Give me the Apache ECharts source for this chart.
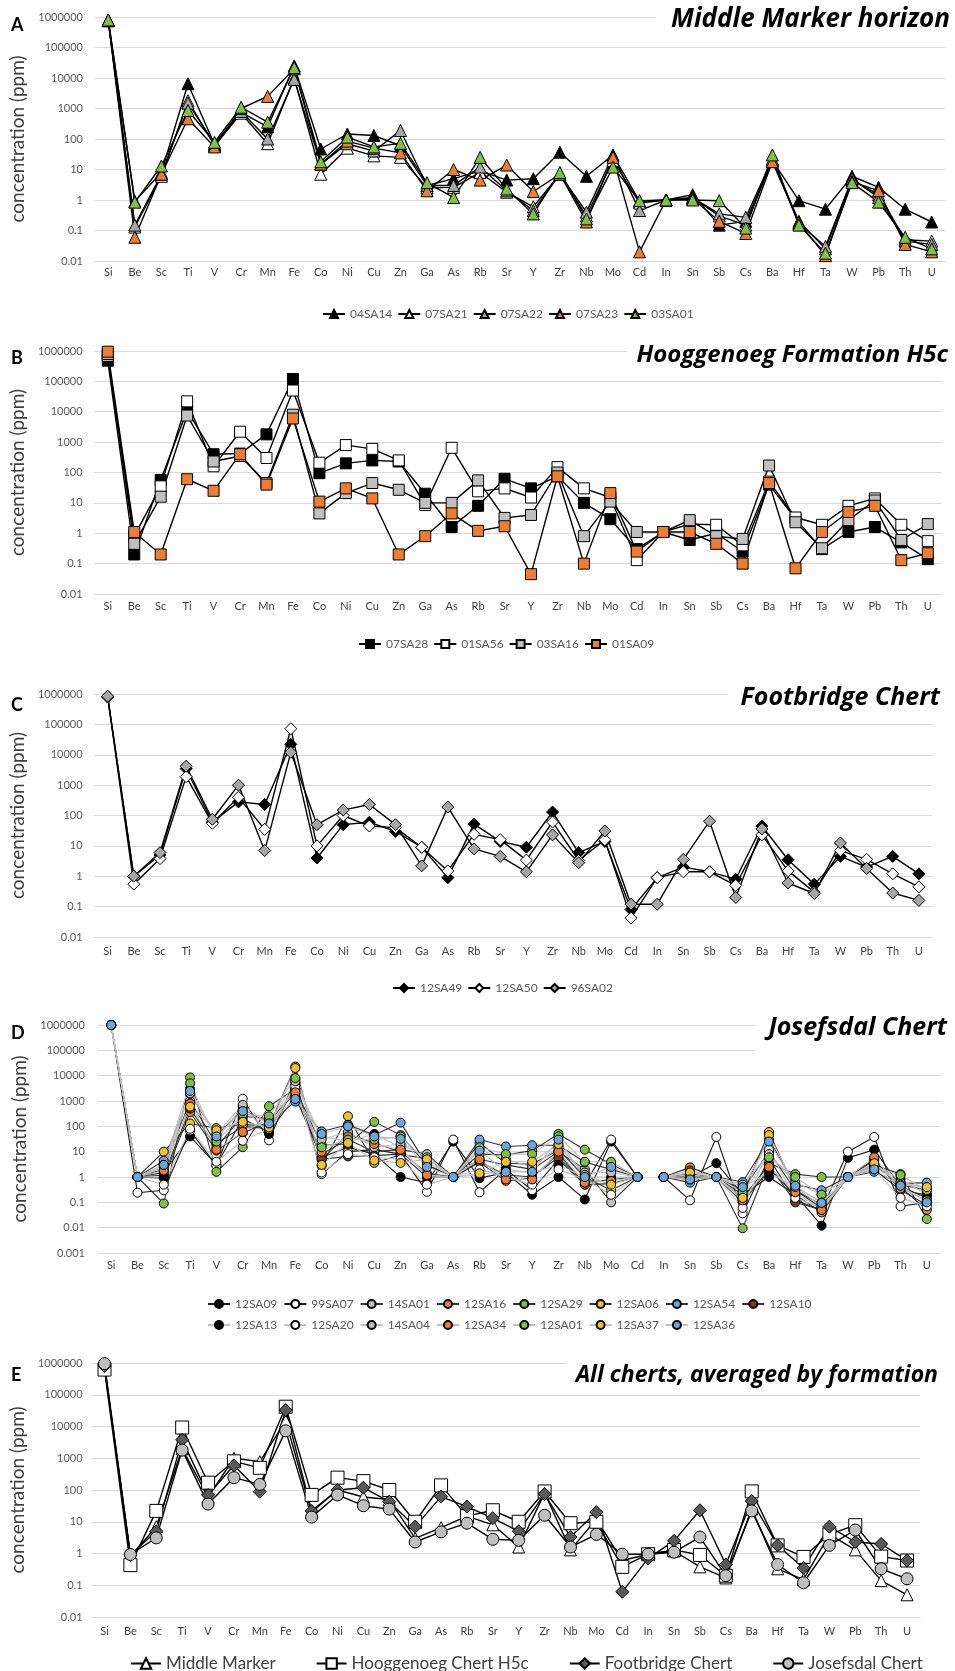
<!DOCTYPE html>
<html>
<head>
<meta charset="utf-8">
<script src="https://cdn.jsdelivr.net/npm/echarts@6/dist/echarts.min.js"></script>
<style>
html,body{margin:0;padding:0;background:#fff}
#chart{width:955px;height:1671px}
</style>
</head>
<body>
<div id="chart"></div>
<script>
// Element order along the x axis
const elements = ['Si','Be','Sc','Ti','V','Cr','Mn','Fe','Co','Ni','Cu','Zn','Ga','As','Rb','Sr','Y','Zr','Nb','Mo','Cd','In','Sn','Sb','Cs','Ba','Hf','Ta','W','Pb','Th','U'];

// A – Middle Marker horizon (ppm)
const a04SA14 = [800000,0.9,8,6500,65,750,250,25000,47,146,130,60,3,5,9,4.5,5,37,6,30,0.9,1,1.5,0.15,0.2,20,0.95,0.5,6,2.6,0.5,0.19];
const a07SA21 = [750000,0.13,6,1800,60,700,70,10000,7,50,28,25,2.5,2.6,8,1.8,0.6,7,0.3,20,0.8,1,1.2,0.3,0.15,20,0.2,0.025,4.5,1.5,0.05,0.045];
const a07SA22 = [780000,0.15,7,1500,70,800,100,9000,15,70,40,190,3,3,12,2,0.45,7,0.4,29,0.45,1,1.2,0.35,0.27,22,0.17,0.03,5,1.2,0.045,0.035];
const a07SA23 = [760000,0.06,7,460,55,1000,2500,20000,15,85,50,35,2,10,4.5,14,1.9,7,0.19,25,0.02,1,1.1,0.2,0.08,18,0.18,0.015,4,2,0.035,0.02];
const a03SA01 = [800000,0.85,13,860,78,1100,355,22000,18,115,55,72,3.7,1.2,25,2.3,0.35,8,0.24,12,0.95,1,1,0.95,0.12,30,0.15,0.018,3.7,0.85,0.06,0.025];

// B – Hooggenoeg Formation H5c (ppm)
const b07SA28 = [480000,0.2,57,11000,400,420,1800,120000,95,200,250,230,20,1.6,8,62,30,75,10,2.9,0.3,1.1,0.6,1,0.25,40,3,0.3,1.1,1.6,0.5,0.14];
const b01SA56 = [700000,0.8,35,22000,160,2200,300,50000,210,800,600,250,8.5,650,24,30,15,150,30,15,0.13,1.1,2,1.9,0.4,50,3.3,1.9,8,14,1.9,0.55];
const b03SA16 = [800000,0.45,16,7500,230,350,45,8000,4.5,21,45,27,10,10,55,3.2,4,100,0.8,11,1.1,1.1,2.7,0.8,0.65,170,2.3,0.32,2.7,12,0.6,2];
const b01SA09 = [950000,1.1,0.2,60,25,400,40,6000,11,30,14,0.2,0.8,4.5,1.2,1.7,0.045,75,0.1,21,0.25,1.1,1.1,0.45,0.1,45,0.07,1.1,5,8,0.13,0.22];

// C – Footbridge Chert (ppm)
const c12SA49 = [800000,1,5,3500,60,280,230,22000,4,50,60,30,9,0.9,52,14,9,130,6,14,0.08,0.9,2,1.4,0.8,45,3.5,0.55,4.5,2,4.5,1.2];
const c12SA50 = [800000,0.55,3.8,1900,55,400,35,72000,10,100,45,40,9,1.5,24,16,3.4,61,3.3,16,0.042,0.9,1.4,1.4,0.5,23,1.5,0.3,7,3.6,1.2,0.45];
const c96SA02 = [850000,1,6,4200,75,1000,7,12000,50,150,230,50,2.2,190,8,4.5,1.4,23,2.8,31,0.12,0.12,3.6,65,0.2,36,0.6,0.27,12.5,1.8,0.28,0.16];

// D – Josefsdal Chert (ppm)
const d12SA09 = [1000000,1,1.5,40,3,200,60,1500,6,15,8,1,0.6,25,0.9,1.5,0.2,1,0.13,25,1,1,1,3.5,0.2,1,0.2,0.012,5.7,12,0.42,0.15];
const d99SA07 = [1000000,0.24,0.3,68,2.8,1230,28,7000,1.3,10,12,8,0.26,30,0.25,2,0.3,5,0.5,30,1,1,0.12,38,0.037,5.5,0.12,0.05,10,38,0.07,0.1];
const d14SA01 = [1000000,1,2,1000,20,100,80,3000,8,30,10,12,8,1,5,3,2,10,2,0.1,1,1,0.8,1,0.3,10,0.3,0.06,1,2,0.3,0.2];
const d12SA16 = [1000000,1,0.9,360,11,55,150,2500,5,50,22,10,1.4,1,3.8,0.7,0.9,8.5,0.5,0.55,1,1,2.4,1,0.1,2,0.2,0.04,1,4.5,0.4,0.05];
const d12SA29 = [1000000,1,0.09,8500,1.6,15,620,3000,18,20,150,45,3,1,8,7.5,11,50,12,3.2,1,1,1,1,0.0095,3.5,1.3,1,1,3,1.3,0.022];
const d12SA06 = [1000000,1,10,130,85,120,100,23000,2.8,250,3.6,7.5,5.5,1,22,3.5,3.2,12,1,0.3,1,1,1.3,1,0.2,60,0.3,0.08,1,3,0.5,0.3];
const d12SA54 = [1000000,1,4.4,1900,45,450,140,950,63,115,45,140,3,1,30,16,18,18,3.8,2,1,1,0.6,1,0.63,30,0.5,0.3,1,1.6,0.55,0.6];
const d12SA10 = [1000000,1,1.2,500,15,250,200,2000,5,6.5,7,8,1,1,4,1.2,1,6,0.6,0.8,1,1,1,1,0.15,3,0.1,0.05,1,5,0.3,0.08];
const d12SA13 = [1000000,1,1,3000,30,600,50,5000,40,25,50,15,1,1,1.2,2,1.5,3,1,1,1,1,1,1,0.4,1.5,0.4,0.07,1,3,0.8,0.2];
const d12SA20 = [1000000,1,0.5,80,4,27,80,4000,1.5,8,6,5,0.5,1,2,1,0.5,2,0.8,0.2,1,1,0.8,1,0.06,12,0.15,0.06,1,2,0.15,0.07];
const d14SA04 = [1000000,1,2.5,2000,50,700,120,6000,30,60,15,20,6,1,12,5,2.5,15,1.5,1.5,1,1,1.2,1,0.5,8,0.6,0.2,1,2.5,0.6,0.4];
const d12SA34 = [1000000,1,1.8,800,12,60,200,2200,10,40,20,12,1.2,1,5,0.8,0.8,10,0.6,0.7,1,1,1.8,1,0.12,2.5,0.25,0.05,1,6,0.35,0.12];
const d12SA01 = [1000000,1,3,5000,25,300,250,8000,15,30,30,40,4,1,15,8,8,40,4,4,1,1,1.5,1,0.25,6,1,0.2,1,2.5,1.2,0.3];
const d12SA37 = [1000000,1,3,600,70,150,90,20000,3,22,4.5,3.6,5,1,1.4,4,4,20,1.2,0.5,1,1,1.5,1,0.15,45,0.4,0.1,1,3.5,0.5,0.4];
const d12SA36 = [1000000,1,3,2500,40,400,130,1200,50,100,40,32,2.5,1,11,1.6,1.6,30,1,2.5,1,1,0.8,1,0.4,25,0.45,0.095,1,2,0.45,0.1];

// E – averages by formation (ppm)
const eMiddleMarker = [750000,0.8,7,2000,60,1000,780,15000,20,100,60,50,3,6.5,15,8,1.6,80,1.3,12,0.6,0.95,1.2,0.38,0.17,25,0.33,0.15,4,1.3,0.14,0.05];
const eHooggenoeg   = [620000,0.43,22,9300,170,800,500,42000,70,245,190,100,10,140,15,23,10,90,9,10,0.38,0.95,1.3,0.9,0.2,90,1.8,0.78,4,7.8,0.8,0.6];
const eFootbridge   = [800000,0.9,5,3800,70,600,88,33000,22,100,118,43,7,62,30,13,5,75,3.3,20,0.062,0.7,2.5,23,0.45,45,1.8,0.35,7,2.3,2,0.6];
const eJosefsdal    = [950000,0.93,3.1,1800,36,245,150,7300,14,70,32,25,2.3,4.8,9,2.8,2.6,16,1.6,4,0.95,0.95,1.1,3.3,0.2,22,0.45,0.12,1.8,5.5,0.33,0.16];

const ORANGE = '#ED7D31', GREEN = '#7DC242', YELLOW = '#F2C12E', BLUE = '#6AA6DE', BROWN = '#7E3A1C', GREY = '#BFBFBF';
const FONT = 'Lato';

function line(name, data, idx, o) {
  return {
    name: name, type: 'line', xAxisIndex: idx, yAxisIndex: idx, data: data,
    symbol: o.symbol, symbolSize: o.size,
    itemStyle: { color: o.fill, borderColor: '#000', borderWidth: 1 },
    lineStyle: { color: o.line || '#000', width: o.lw || 1.4 },
    emphasis: { disabled: true }, animation: false
  };
}

const series = [];
// A
[['04SA14', a04SA14, '#000'], ['07SA21', a07SA21, '#fff'], ['07SA22', a07SA22, '#A6A6A6'],
 ['07SA23', a07SA23, ORANGE], ['03SA01', a03SA01, GREEN]].forEach(function (s) {
  series.push(line(s[0], s[1], 0, { symbol: 'triangle', size: 12, fill: s[2] }));
});
// B
[['07SA28', b07SA28, '#000'], ['01SA56', b01SA56, '#fff'], ['03SA16', b03SA16, GREY], ['01SA09', b01SA09, ORANGE]]
  .forEach(function (s) { series.push(line(s[0], s[1], 1, { symbol: 'rect', size: 11, fill: s[2] })); });
// C
[['12SA49', c12SA49, '#000'], ['12SA50', c12SA50, '#fff'], ['96SA02', c96SA02, '#A6A6A6']]
  .forEach(function (s) { series.push(line(s[0], s[1], 2, { symbol: 'diamond', size: 12, fill: s[2] })); });
// D – each sample is drawn as two runs, broken between Cd and In
const josefsdal = [
  ['12SA09', d12SA09, '#000', '#1a1a1a'], ['99SA07', d99SA07, '#fff', '#1a1a1a'], ['14SA01', d14SA01, GREY, '#333'],
  ['12SA16', d12SA16, ORANGE, '#333'], ['12SA29', d12SA29, GREEN, '#333'], ['12SA06', d12SA06, YELLOW, '#333'],
  ['12SA54', d12SA54, BLUE, '#333'], ['12SA10', d12SA10, BROWN, '#333'],
  ['12SA13', d12SA13, '#000', GREY], ['12SA20', d12SA20, '#fff', GREY], ['14SA04', d14SA04, GREY, GREY],
  ['12SA34', d12SA34, ORANGE, GREY], ['12SA01', d12SA01, GREEN, GREY], ['12SA37', d12SA37, YELLOW, GREY],
  ['12SA36', d12SA36, BLUE, GREY]
];
const cdIndex = elements.indexOf('Cd');
josefsdal.forEach(function (s) {
  const left = s[1].map(function (v, i) { return i <= cdIndex ? v : null; });
  const right = s[1].map(function (v, i) { return i > cdIndex ? v : null; });
  const o = { symbol: 'circle', size: 9, fill: s[2], line: s[3], lw: 1.1 };
  series.push(line(s[0], left, 3, o));
  series.push(line(s[0], right, 3, o));
});
// E
series.push(line('Middle Marker', eMiddleMarker, 4, { symbol: 'triangle', size: 12, fill: '#fff' }));
series.push(line('Hooggenoeg Chert H5c', eHooggenoeg, 4, { symbol: 'rect', size: 13, fill: '#fff' }));
series.push(line('Footbridge Chert', eFootbridge, 4, { symbol: 'diamond', size: 13, fill: '#595959' }));
series.push(line('Josefsdal Chert', eJosefsdal, 4, { symbol: 'circle', size: 12, fill: GREY }));

// Panel geometry
const panels = [
  { grid: { left: 95, width: 850, top: 17, height: 244 }, min: 0.01, labelMargin: 12, nameGap: 65, xMargin: 6 },
  { grid: { left: 94, width: 847, top: 351, height: 243 }, min: 0.01, labelMargin: 12, nameGap: 64, xMargin: 7 },
  { grid: { left: 92, width: 840, top: 694, height: 243 }, min: 0.01, labelMargin: 12, nameGap: 62, xMargin: 9 },
  { grid: { left: 98, width: 842, top: 1025, height: 228 }, min: 0.001, labelMargin: 13, nameGap: 67, xMargin: 7 },
  { grid: { left: 85, width: 835, top: 1363, height: 254 }, min: 0.01, labelMargin: 9, nameGap: 55, xMargin: 9 }
];

function fmt(v) { return String(Number(v.toPrecision(1))); }

const grids = panels.map(function (p) { return p.grid; });
const xAxes = panels.map(function (p, i) {
  return {
    type: 'category', gridIndex: i, data: elements, boundaryGap: true,
    axisLine: { show: true, lineStyle: { color: '#D9D9D9' } }, axisTick: { show: false },
    axisLabel: { interval: 0, color: '#404040', fontSize: 11, fontFamily: FONT, margin: p.xMargin }
  };
});
const yAxes = panels.map(function (p, i) {
  return {
    type: 'log', logBase: 10, gridIndex: i, min: p.min, max: 1000000,
    splitNumber: p.min === 0.001 ? 9 : 8,
    axisLine: { show: false }, axisTick: { show: false },
    splitLine: { lineStyle: { color: '#D9D9D9', width: 1 } },
    axisLabel: { formatter: fmt, color: '#595959', fontSize: 11, fontFamily: FONT, margin: p.labelMargin },
    name: 'concentration (ppm)', nameLocation: 'middle', nameGap: p.nameGap,
    nameTextStyle: { fontSize: 19, color: '#404040', fontFamily: FONT }
  };
});

function titleStyle(size) {
  return { fontFamily: 'Open Sans', fontStyle: 'italic', fontWeight: 'bold', fontSize: size, color: '#000' };
}
const titles = [
  { text: 'Middle Marker horizon', right: 1, top: 5, padding: [2, 4, 2, 15], size: 26 },
  { text: 'Hooggenoeg Formation H5c', right: 3, top: 341, padding: [2, 4, 2, 10], size: 24 },
  { text: 'Footbridge Chert', right: 11, top: 683, padding: [2, 4, 2, 13], size: 25 },
  { text: 'Josefsdal Chert', right: 4, top: 1013, padding: [2, 4, 14, 13], size: 25 },
  { text: 'All cherts, averaged by formation', right: 13, top: 1360, padding: [4, 4, 2, 10], size: 23 }
].map(function (t) {
  t.backgroundColor = '#fff'; t.textStyle = titleStyle(t.size); t.z = 10; delete t.size; return t;
});

const legendText = { fontSize: 12, color: '#595959', fontFamily: FONT };
function legend(names, left, top, extra) {
  return Object.assign({ data: names, left: left, top: top, orient: 'horizontal', itemWidth: 22, itemHeight: 10,
    itemGap: 5, textStyle: legendText, selectedMode: false }, extra || {});
}
const dNames = josefsdal.map(function (s) { return s[0]; });
const legends = [
  legend(['04SA14', '07SA21', '07SA22', '07SA23', '03SA01'], 317, 303),
  legend(['07SA28', '01SA56', '03SA16', '01SA09'], 353, 633),
  legend(['12SA49', '12SA50', '96SA02'], 387, 977),
  legend(dNames.slice(0, 8), 202, 1293, { itemGap: 6 }),
  legend(dNames.slice(8), 202, 1314, { itemGap: 6 }),
  legend(['Middle Marker', 'Hooggenoeg Chert H5c', 'Footbridge Chert', 'Josefsdal Chert'], 125, 1650,
    { itemWidth: 30, itemHeight: 13, itemGap: 40, textStyle: { fontSize: 17, color: '#404040', fontFamily: FONT } })
];

const letters = [['A', 16], ['B', 349], ['C', 696], ['D', 1024], ['E', 1366]].map(function (l) {
  return { type: 'text', left: 11, top: l[1], style: { text: l[0], font: 'bold 18px Lato', fill: '#000' } };
});

const chart = echarts.init(document.getElementById('chart'), null, { renderer: 'canvas' });
chart.setOption({
  backgroundColor: '#fff',
  animation: false,
  title: titles,
  legend: legends,
  grid: grids,
  xAxis: xAxes,
  yAxis: yAxes,
  series: series,
  graphic: letters
});
</script>
</body>
</html>
